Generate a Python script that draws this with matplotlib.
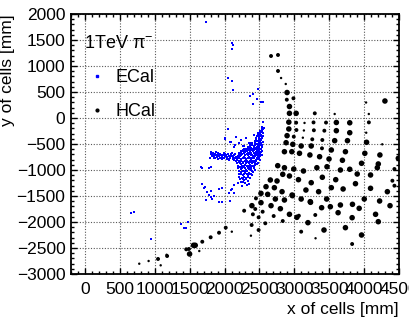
import matplotlib
matplotlib.use("Agg")
import matplotlib.pyplot as plt
from matplotlib.lines import Line2D
from matplotlib.ticker import MultipleLocator

plt.rcParams['font.family'] = ['Liberation Sans', 'DejaVu Sans']
plt.rcParams['mathtext.default'] = 'regular'

# ECal hits, scattered ones (x, y in mm)
ecal_halo_x = [1739, 2100, 2128, 2114, 2056, 2104, 2128, 2474, 2402, 2368, 2460, 2526, 2551,
               2411, 2546, 2565, 2056, 2570,
               658, 706, 947, 1379, 1417, 1451, 1474, 1667, 1705, 1725,
               2007, 2003, 2090, 2162, 2234, 2306, 2354, 2416, 2474, 2497, 2152, 2258, 2209,
               2137, 2080, 2272, 2378, 2450, 2474, 2497, 2522,
               1681, 1753, 1801, 1777, 1849, 1826, 1921, 1970, 2065, 2075, 2137, 2186, 2114,
               1777, 1801, 1801, 1729, 1921, 1970, 2090, 2137, 1672]
ecal_halo_y = [1852, 1448, 1404, 1327, 775, 712, 539, 558, 456, 429, 365, 313, 313,
               275, -77, -186, -211, -198,
               -1833, -1802, -2327, -2044, -2121, -2109, -2006, -948, -1340, -1321,
               -404, -380, -456, -359, -423, -390, -487, -327, -294, -379, -519, -533, -487,
               -552, -467, -538, -487, -390, -327, -294, -263,
               -1275, -1417, -1398, -1481, -1494, -1558, -1621, -1340, -1449, -1596, -1288,
               -1256, -1365, -967, -937, -1513, -1577, -1371, -1609, -1385, -1437, -967]

# ECal hits, dense shower core (x, y in mm)
ecal_core_x = [1800, 1815, 1830, 1845, 1860, 1875, 1890, 1905, 1920, 1935, 1950, 1965, 1980,
               1995, 2010, 2025, 2040, 2055, 2070, 2085, 2100, 2115, 2130, 2145, 2160, 2175,
               2190, 2200, 1790, 1870, 1960, 2060, 1880, 1990, 2090,
               1810, 1840, 1900, 1940, 2000, 2050, 2110, 2150, 1850, 1910, 1970, 2030, 2080,
               2140, 2180, 1820, 1900, 2120,
               2540, 2530, 2545, 2515, 2535, 2500, 2540, 2520, 2480, 2545, 2505, 2460, 2530,
               2420, 2490, 2540, 2380, 2450, 2510, 2330, 2400, 2470, 2535, 2290, 2360, 2430,
               2500, 2250, 2320, 2390, 2460, 2530,
               2220, 2280, 2350, 2420, 2490, 2240, 2310, 2380, 2450, 2510, 2210, 2270, 2340,
               2410, 2480, 2230, 2300, 2370, 2440,
               2220, 2280, 2350, 2420, 2240, 2310, 2380, 2430, 2230, 2290, 2350, 2410, 2260,
               2330, 2390, 2250, 2310, 2370, 2280, 2340, 2300, 2350, 2320,
               2370, 2440, 2410, 2480, 2395, 2465, 2430, 2500, 2360, 2395, 2460, 2330, 2400,
               2480, 2450, 2420, 2500, 2470, 2520, 2515, 2505, 2440, 2385, 2350, 2300, 2380,
               2530, 2548, 2510, 2540, 2485, 2520, 2470, 2510, 2545, 2450, 2490, 2525,
               2430, 2470, 2510, 2390, 2440, 2490, 2520, 2360, 2400, 2440, 2480, 2515,
               2330, 2360, 2420, 2460, 2500, 2530, 2280, 2310, 2350, 2390, 2440, 2480, 2520,
               2260, 2300, 2340, 2380, 2420, 2460, 2500, 2240, 2270, 2320, 2370, 2410, 2490,
               2530, 2210, 2230, 2280, 2330, 2380, 2420, 2470, 2510,
               2200, 2240, 2290, 2340, 2380, 2430, 2470, 2500, 2180, 2210, 2260, 2300, 2340,
               2360, 2420, 2470, 2170, 2200, 2240, 2290, 2320, 2370, 2410, 2450,
               2180, 2220, 2260, 2310, 2350, 2390, 2430, 2190, 2250, 2280, 2320, 2370, 2420,
               2190, 2250, 2300, 2340, 2380, 2200, 2260, 2320, 2390, 2200, 2240, 2280, 2320,
               2350, 2210, 2280, 2340, 2220, 2260, 2310, 2230, 2270, 2250]
ecal_core_y = [-690, -720, -700, -740, -690, -715, -745, -700, -730, -760, -710, -740, -720,
               -765, -735, -705, -750, -780, -725, -760, -740, -790, -710, -770, -745, -800,
               -730, -690, -770, -770, -790, -810, -650, -680, -700,
               -660, -680, -670, -690, -700, -690, -680, -700, -760, -780, -760, -790, -740,
               -810, -760, -740, -720, -750,
               -180, -230, -280, -300, -340, -370, -390, -420, -440, -460, -480, -500, -510,
               -530, -540, -560, -570, -580, -600, -600, -620, -630, -640, -650, -655, -665,
               -675, -690, -700, -705, -710, -715,
               -740, -745, -750, -755, -760, -790, -795, -800, -805, -810, -840, -845, -850,
               -855, -860, -890, -895, -900, -905,
               -940, -945, -950, -955, -990, -1000, -1005, -1000, -1040, -1050, -1055, -1045,
               -1100, -1105, -1095, -1150, -1160, -1150, -1200, -1210, -1250, -1270, -1290,
               -690, -690, -730, -735, -775, -780, -825, -790, -820, -870, -880, -920, -925,
               -620, -650, -595, -570, -560, -650, -700, -735, -730, -840, -980, -1020, -1070,
               -210, -210, -250, -250, -320, -320, -350, -350, -350, -410, -410, -410,
               -450, -450, -450, -490, -490, -490, -490, -520, -520, -520, -520, -520,
               -550, -550, -550, -550, -550, -550, -590, -590, -590, -590, -590, -590, -590,
               -610, -610, -610, -610, -610, -610, -610, -640, -640, -640, -640, -640, -640,
               -640, -670, -670, -670, -670, -670, -670, -670, -670,
               -720, -720, -720, -720, -720, -720, -720, -720, -770, -770, -770, -770, -770,
               -770, -770, -770, -820, -820, -820, -820, -820, -820, -820, -820,
               -870, -870, -870, -870, -870, -870, -870, -920, -920, -920, -920, -920, -920,
               -970, -970, -970, -970, -970, -1020, -1020, -1020, -1020, -1070, -1070, -1070,
               -1070, -1070, -1130, -1130, -1130, -1180, -1180, -1180, -1230, -1230, -1310]

# HCal hits (x, y in mm) and relative energy (1 low .. 3 high)
hcal_x = [2666, 2766, 2766, 2810, 2877, 2896, 2892, 2987, 2930, 2930, 3026, 3293, 3578, 4067,
          4298, 4028,
          2921, 3026, 3146, 3275, 3454, 3602, 3794, 4068,
          2921, 3030, 3137, 3280, 3430, 3602, 3794, 4030,
          2896, 2992, 3122, 3257, 3401, 3578, 3761, 4035, 4260,
          2882, 2978, 3098, 3242, 3396, 3530, 3732, 4010, 4226, 4490,
          2858, 2964, 3074, 3223, 3362, 3497, 3689, 3963, 4203,
          2762, 2858, 2992, 3131, 3323, 3468, 3660, 3794, 4189, 4434,
          2656, 2752, 2834, 2930, 3059, 3242, 3401, 3593, 3901, 4092, 4405,
          2594, 2714, 2824, 2968, 3166, 3348, 3530, 3699, 3876, 4092, 4333, 4434,
          2522, 2618, 2728, 2858, 2973, 3098, 3228, 3463, 3660, 3833, 4002, 4222,
          2450, 2522, 2666, 2800, 2930, 3065, 3232, 3391, 3516, 3627, 3828, 3929, 4164, 4371,
          2281, 2392, 2440, 2406, 2488, 2546, 2704, 2834, 3036, 3195, 3300, 3425, 3732, 3963,
          4203,
          2017, 2104, 2388, 2488, 2584, 2378, 3098, 3304, 3828,
          778, 912, 1047, 1085, 1177, 1170, 1451, 1489, 1499, 1556, 1580, 1638, 1681, 1801,
          1921]
hcal_y = [1192, 1212, 904, 769, 654, 490, 352, 379, 221, 90, 90, 90, 77, 77,
          327, 298,
          -80, -90, -95, -85, -88, -86, -92, -84,
          -211, -231, -240, -236, -244, -244, -283, -283,
          -340, -359, -379, -410, -423, -436, -436, -467, -506,
          -475, -506, -538, -538, -583, -615, -648, -679, -711, -775,
          -648, -648, -679, -711, -744, -788, -813, -871, -884,
          -917, -956, -981, -1019, -956, -937, -1000, -986, -956, -981,
          -1192, -1211, -1083, -1115, -1186, -1244, -1140, -1186, -1077, -1096, -1206,
          -1321, -1340, -1417, -1481, -1385, -1417, -1340, -1365, -1263, -1352, -1417, -1302,
          -1449, -1468, -1558, -1577, -1494, -1558, -1609, -1558, -1673, -1660, -1558, -1596,
          -1545, -1628, -1686, -1744, -1852, -1879, -1621, -1725, -1706, -1821, -1917, -1737,
          -1852, -1686,
          -1783, -1686, -1750, -1852, -1910, -1802, -1885, -1981, -1910, -2013, -1865, -2154,
          -2109, -2250, -1994,
          -2109, -2186, -2058, -2154, -2025, -2263, -2186, -2313, -2423,
          -2802, -2750, -2711, -2833, -2654, -2630, -2525, -2519, -2615, -2448, -2448, -2558,
          -2379, -2294, -2206]
hcal_e = [2, 2, 2, 1, 1, 3, 2, 2, 3, 3, 3, 2, 1, 1,
          3, 1,
          3, 2, 1, 2, 2, 3, 3, 2,
          3, 2, 1, 2, 2, 3, 3, 1,
          3, 2, 1, 2, 2, 3, 3, 3, 1,
          3, 3, 3, 3, 2, 3, 3, 3, 3, 3,
          3, 3, 3, 3, 3, 3, 3, 3, 3,
          3, 3, 3, 3, 3, 3, 3, 3, 3, 2,
          3, 3, 3, 3, 3, 3, 3, 3, 3, 3, 2,
          3, 3, 3, 3, 3, 3, 3, 3, 3, 3, 3, 2,
          3, 3, 3, 3, 3, 3, 3, 3, 3, 3, 3, 3,
          2, 3, 3, 3, 3, 2, 3, 3, 3, 3, 3, 3, 3, 3,
          2, 3, 2, 2, 2, 2, 2, 2, 3, 3, 2, 3, 3, 3,
          3,
          2, 1, 2, 2, 2, 1, 2, 1, 2,
          1, 1, 2, 1, 2, 1, 2, 2, 3, 3, 3, 1,
          2, 2, 2]

size_of = {1: 3, 2: 8, 3: 16}

fig = plt.figure(figsize=(4.09, 3.21), dpi=100)
ax = fig.add_axes([0.1736, 0.1464, 0.802, 0.81])

ax.scatter(ecal_halo_x + ecal_core_x, ecal_halo_y + ecal_core_y, s=4.5, marker='s',
           color='blue', linewidths=0)
ax.scatter(hcal_x, hcal_y, s=[size_of[e] for e in hcal_e], marker='o', color='black',
           linewidths=0)

ax.set_xlim(-200, 4500)
ax.set_ylim(-3000, 2000)
ax.xaxis.set_major_locator(MultipleLocator(500))
ax.xaxis.set_minor_locator(MultipleLocator(100))
ax.yaxis.set_major_locator(MultipleLocator(500))
ax.yaxis.set_minor_locator(MultipleLocator(100))
ax.tick_params(axis='both', which='both', direction='in', top=True, right=True,
               labelsize=12.5, width=1)
ax.tick_params(axis='x', which='major', length=4, pad=6)
ax.tick_params(axis='x', which='minor', length=2)
ax.tick_params(axis='y', which='major', length=4.5, pad=4)
ax.tick_params(axis='y', which='minor', length=2.3)
for sp in ax.spines.values():
    sp.set_linewidth(1.3)

ax.grid(True, which='major', linestyle=(0, (1, 1.5)), linewidth=0.8, color='0.35')
ax.set_axisbelow(True)

ax.set_xlabel('x of cells [mm]', loc='right', fontsize=12.5, labelpad=3)
ax.set_ylabel('y of cells [mm]', loc='top', fontsize=12.5, labelpad=1)

handles = [Line2D([], [], marker='s', color='blue', ls='none', markersize=1.8),
           Line2D([], [], marker='o', color='black', ls='none', markersize=2)]
ax.legend(handles, ['ECal', 'HCal'], title='1TeV π$^{-}$', loc='upper left',
          bbox_to_anchor=(0.04, 0.92), frameon=False, fontsize=13, title_fontsize=13,
          alignment='left', handlelength=1.4, handletextpad=0.35, labelspacing=0.95,
          borderpad=0, borderaxespad=0)

fig.savefig('out.png', dpi=100)
